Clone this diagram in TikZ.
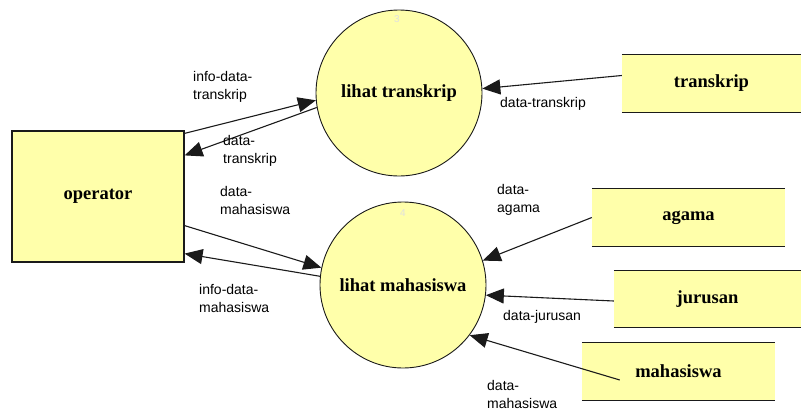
\documentclass[tikz,border=0pt]{standalone}
\usepackage{fontspec}
\setmainfont{Liberation Serif}
\setsansfont{Liberation Sans}
\usetikzlibrary{arrows.meta}
\definecolor{boxfill}{HTML}{FFFFAA}
\definecolor{edge}{HTML}{1A1A1A}
\tikzset{
  proc/.style={circle, draw=edge, line width=0.9pt, fill=boxfill, minimum size=166pt, inner sep=0pt,
    font=\fontsize{18.5}{20}\selectfont\bfseries},
  entity/.style={rectangle, draw=edge, line width=1.2pt, fill=boxfill, inner sep=0pt,
    font=\fontsize{18.5}{20}\selectfont\bfseries},
  store/.style={rectangle, fill=boxfill, inner sep=0pt,
    font=\fontsize{18.5}{20}\selectfont\bfseries},
  storeline/.style={draw=edge, line width=1.3pt},
  flow/.style={draw=edge, line width=1.1pt, -{Triangle[length=18pt,width=15pt]}},
  flowlabel/.style={font=\sffamily\fontsize{14}{18}\selectfont, align=left, anchor=west, inner sep=0pt},
  procnum/.style={font=\sffamily\fontsize{10}{12}\selectfont, text=black!12}
}
\begin{document}
\begin{tikzpicture}[x=1pt, y=-1pt]
\useasboundingbox (0,0) rectangle (801,413);

% processes
\node[proc] (c1) at (399,93) {lihat transkrip};
\node[procnum] (n3) at (397,19) {3};
\node[proc] (c2) at (403,285) {lihat mahasiswa};
\node[procnum] (n4) at (403,213) {4};

% external entity
\node[entity, minimum width=172pt, minimum height=131pt] (op) at (98,196.5) {operator};

% data stores
\node[store, minimum width=179pt, minimum height=57pt] (st) at (711.5,83.5) {transkrip};
\node[store, minimum width=193pt, minimum height=57pt] (sa) at (688.5,217.5) {agama};
\node[store, minimum width=187pt, minimum height=56pt] (sj) at (707.5,299) {jurusan};
\node[store, minimum width=193pt, minimum height=57pt] (sm) at (678.5,371.5) {mahasiswa};
\foreach \s in {st,sa,sj,sm}{
  \draw[storeline] (\s.north west) -- (\s.north east);
  \draw[storeline] (\s.south west) -- (\s.south east);
}

% flows around lihat transkrip
\draw[flow] ([yshift=-3pt]op.north east) -- (c1.185);
\draw[flow] (c1.190) -- ([yshift=-25pt]op.north east);
\draw[flow] ([yshift=8pt]st.west) -- (c1.3);

% flows around lihat mahasiswa
\draw[flow] ([yshift=37pt]op.south east) -- (c2.168);
\draw[flow] (c2.174) -- ([yshift=9pt]op.south east);
\draw[flow] (sa.west) -- (c2.17);
\draw[flow] ([yshift=-2pt]sj.west) -- (c2.-7);
\draw[flow] ([xshift=38pt,yshift=-8.5pt]sm.west) -- (c2.-37);

% flow labels
\node[flowlabel] (l1) at (193,87) {info-data-\\transkrip};
\node[flowlabel] (l2) at (223,151) {data-\\transkrip};
\node[flowlabel] (l3) at (500,104) {data-transkrip};
\node[flowlabel] (l4) at (220,200.5) {data-\\mahasiswa};
\node[flowlabel] (l5) at (199,298) {info-data-\\mahasiswa};
\node[flowlabel] (l6) at (497,199.5) {data-\\agama};
\node[flowlabel] (l7) at (503,317) {data-jurusan};
\node[flowlabel] (l8) at (487,394.5) {data-\\mahasiswa};
\end{tikzpicture}
\end{document}
